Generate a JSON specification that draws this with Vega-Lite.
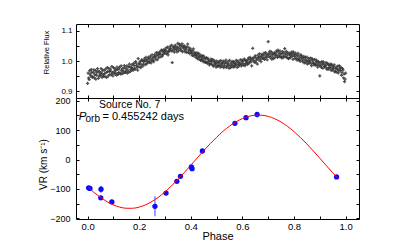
{
"$schema":"https://vega.github.io/schema/vega-lite/v6.json",
"padding":{"left":37,"top":23,"right":5,"bottom":0},
"spacing":0,
"bounds":"flush",
"config":{"font":"Liberation Sans","view":{"stroke":"#000","strokeWidth":1},
"axis":{"domain":false,"grid":false,"tickColor":"#000","tickSize":-3,"tickWidth":1,"labelColor":"#000","titleColor":"#000","labelFont":"Liberation Sans","titleFont":"Liberation Sans","titleFontWeight":"normal","labelPadding":6}},
"datasets":{
"lc":[
{"p":0.000,"f":0.926},{"p":0.004,"f":0.944},{"p":0.008,"f":0.968},{"p":0.012,"f":0.951},{"p":0.016,"f":0.963},
{"p":0.020,"f":0.948},{"p":0.024,"f":0.971},{"p":0.028,"f":0.955},{"p":0.032,"f":0.940},{"p":0.036,"f":0.962},
{"p":0.040,"f":0.967},{"p":0.044,"f":0.950},{"p":0.048,"f":0.958},{"p":0.052,"f":0.975},{"p":0.056,"f":0.946},
{"p":0.060,"f":0.955},{"p":0.064,"f":0.969},{"p":0.068,"f":0.948},{"p":0.072,"f":0.962},{"p":0.076,"f":0.978},
{"p":0.080,"f":0.951},{"p":0.084,"f":0.966},{"p":0.088,"f":0.973},{"p":0.092,"f":0.955},{"p":0.096,"f":0.962},
{"p":0.100,"f":0.978},{"p":0.104,"f":0.958},{"p":0.108,"f":0.969},{"p":0.112,"f":0.953},{"p":0.116,"f":0.972},
{"p":0.120,"f":0.962},{"p":0.124,"f":0.980},{"p":0.128,"f":0.957},{"p":0.132,"f":0.969},{"p":0.136,"f":0.975},
{"p":0.140,"f":0.961},{"p":0.144,"f":0.978},{"p":0.148,"f":0.966},{"p":0.152,"f":0.984},{"p":0.156,"f":0.970},
{"p":0.160,"f":0.963},{"p":0.164,"f":0.981},{"p":0.168,"f":0.972},{"p":0.172,"f":0.988},{"p":0.176,"f":0.969},
{"p":0.180,"f":0.985},{"p":0.184,"f":0.972},{"p":0.188,"f":0.993},{"p":0.192,"f":0.979},{"p":0.196,"f":1.008},
{"p":0.200,"f":0.981},{"p":0.204,"f":0.999},{"p":0.208,"f":0.987},{"p":0.212,"f":1.001},{"p":0.216,"f":0.990},
{"p":0.220,"f":1.007},{"p":0.224,"f":0.988},{"p":0.228,"f":1.003},{"p":0.232,"f":0.996},{"p":0.236,"f":1.013},
{"p":0.240,"f":0.995},{"p":0.244,"f":1.016},{"p":0.248,"f":1.002},{"p":0.252,"f":1.010},{"p":0.256,"f":0.998},
{"p":0.260,"f":1.021},{"p":0.264,"f":1.006},{"p":0.268,"f":1.018},{"p":0.272,"f":1.027},{"p":0.276,"f":1.011},
{"p":0.280,"f":1.030},{"p":0.284,"f":1.014},{"p":0.288,"f":1.034},{"p":0.292,"f":1.022},{"p":0.296,"f":1.038},
{"p":0.300,"f":1.025},{"p":0.304,"f":1.043},{"p":0.308,"f":1.031},{"p":0.312,"f":1.020},{"p":0.316,"f":1.040},
{"p":0.320,"f":1.048},{"p":0.324,"f":1.033},{"p":0.328,"f":0.995},{"p":0.332,"f":1.043},{"p":0.336,"f":1.029},
{"p":0.340,"f":1.052},{"p":0.344,"f":1.038},{"p":0.348,"f":1.046},{"p":0.352,"f":1.033},{"p":0.356,"f":1.055},
{"p":0.360,"f":1.040},{"p":0.364,"f":1.050},{"p":0.368,"f":1.031},{"p":0.372,"f":1.046},{"p":0.376,"f":1.037},
{"p":0.380,"f":1.045},{"p":0.384,"f":1.029},{"p":0.388,"f":1.056},{"p":0.392,"f":1.036},{"p":0.396,"f":1.024},
{"p":0.400,"f":1.039},{"p":0.404,"f":1.025},{"p":0.408,"f":1.033},{"p":0.412,"f":1.017},{"p":0.416,"f":1.028},
{"p":0.420,"f":1.012},{"p":0.424,"f":1.027},{"p":0.428,"f":1.016},{"p":0.432,"f":1.006},{"p":0.436,"f":1.020},
{"p":0.440,"f":1.003},{"p":0.444,"f":1.018},{"p":0.448,"f":0.998},{"p":0.452,"f":1.010},{"p":0.456,"f":0.995},
{"p":0.460,"f":1.011},{"p":0.464,"f":0.992},{"p":0.468,"f":1.004},{"p":0.472,"f":0.987},{"p":0.476,"f":1.000},
{"p":0.480,"f":0.990},{"p":0.484,"f":1.005},{"p":0.488,"f":0.983},{"p":0.492,"f":0.996},{"p":0.496,"f":0.987},
{"p":0.500,"f":1.000},{"p":0.504,"f":0.982},{"p":0.508,"f":0.994},{"p":0.512,"f":0.986},{"p":0.516,"f":1.001},
{"p":0.520,"f":0.981},{"p":0.524,"f":0.995},{"p":0.528,"f":0.978},{"p":0.532,"f":0.991},{"p":0.536,"f":1.003},
{"p":0.540,"f":0.984},{"p":0.544,"f":0.997},{"p":0.548,"f":0.976},{"p":0.552,"f":0.990},{"p":0.556,"f":0.983},
{"p":0.560,"f":0.999},{"p":0.564,"f":0.980},{"p":0.568,"f":0.992},{"p":0.572,"f":0.986},{"p":0.576,"f":1.002},
{"p":0.580,"f":0.979},{"p":0.584,"f":0.995},{"p":0.588,"f":0.988},{"p":0.592,"f":1.004},{"p":0.596,"f":0.984},
{"p":0.600,"f":0.998},{"p":0.604,"f":0.986},{"p":0.608,"f":1.006},{"p":0.612,"f":0.991},{"p":0.616,"f":1.001},
{"p":0.620,"f":0.989},{"p":0.624,"f":1.010},{"p":0.628,"f":0.997},{"p":0.632,"f":1.005},{"p":0.636,"f":0.984},
{"p":0.640,"f":1.042},{"p":0.644,"f":1.001},{"p":0.648,"f":1.013},{"p":0.652,"f":0.995},{"p":0.656,"f":1.008},
{"p":0.660,"f":1.019},{"p":0.664,"f":1.003},{"p":0.668,"f":1.014},{"p":0.672,"f":0.998},{"p":0.676,"f":1.022},
{"p":0.680,"f":1.008},{"p":0.684,"f":1.026},{"p":0.688,"f":1.012},{"p":0.692,"f":1.020},{"p":0.696,"f":1.004},
{"p":0.700,"f":1.064},{"p":0.704,"f":1.025},{"p":0.708,"f":1.011},{"p":0.712,"f":1.030},{"p":0.716,"f":1.016},
{"p":0.720,"f":1.008},{"p":0.724,"f":1.027},{"p":0.728,"f":1.019},{"p":0.732,"f":1.033},{"p":0.736,"f":1.012},
{"p":0.740,"f":1.029},{"p":0.744,"f":1.014},{"p":0.748,"f":1.024},{"p":0.752,"f":1.010},{"p":0.756,"f":1.031},
{"p":0.760,"f":1.017},{"p":0.764,"f":1.041},{"p":0.768,"f":1.023},{"p":0.772,"f":1.012},{"p":0.776,"f":1.028},
{"p":0.780,"f":1.009},{"p":0.784,"f":1.026},{"p":0.788,"f":1.017},{"p":0.792,"f":1.030},{"p":0.796,"f":1.005},
{"p":0.800,"f":1.022},{"p":0.804,"f":1.008},{"p":0.808,"f":1.019},{"p":0.812,"f":1.003},{"p":0.816,"f":1.025},
{"p":0.820,"f":1.013},{"p":0.824,"f":0.999},{"p":0.828,"f":1.018},{"p":0.832,"f":1.004},{"p":0.836,"f":1.010},
{"p":0.840,"f":0.994},{"p":0.844,"f":1.012},{"p":0.848,"f":1.001},{"p":0.852,"f":0.990},{"p":0.856,"f":1.008},
{"p":0.860,"f":0.997},{"p":0.864,"f":1.010},{"p":0.868,"f":0.985},{"p":0.872,"f":1.003},{"p":0.876,"f":0.991},
{"p":0.880,"f":1.005},{"p":0.884,"f":0.986},{"p":0.888,"f":0.998},{"p":0.892,"f":0.980},{"p":0.896,"f":0.994},
{"p":0.900,"f":0.951},{"p":0.904,"f":0.985},{"p":0.908,"f":0.998},{"p":0.912,"f":0.976},{"p":0.916,"f":0.990},
{"p":0.920,"f":0.981},{"p":0.924,"f":0.995},{"p":0.928,"f":0.972},{"p":0.932,"f":0.988},{"p":0.936,"f":0.978},
{"p":0.940,"f":0.990},{"p":0.944,"f":0.969},{"p":0.948,"f":0.983},{"p":0.952,"f":0.975},{"p":0.956,"f":0.987},
{"p":0.960,"f":0.966},{"p":0.964,"f":0.980},{"p":0.968,"f":0.972},{"p":0.972,"f":0.961},{"p":0.976,"f":0.984},
{"p":0.980,"f":0.968},{"p":0.984,"f":0.953},{"p":0.988,"f":0.975},{"p":0.992,"f":0.944},{"p":0.996,"f":0.932},
{"p":1.000,"f":0.960},
{"p":0.002,"f":0.960},{"p":0.006,"f":0.939},{"p":0.010,"f":0.957},{"p":0.014,"f":0.972},{"p":0.018,"f":0.947},
{"p":0.022,"f":0.962},{"p":0.026,"f":0.944},{"p":0.030,"f":0.968},{"p":0.034,"f":0.953},{"p":0.038,"f":0.975},
{"p":0.042,"f":0.943},{"p":0.046,"f":0.965},{"p":0.050,"f":0.952},{"p":0.054,"f":0.961},{"p":0.058,"f":0.970},
{"p":0.062,"f":0.950},{"p":0.066,"f":0.958},{"p":0.070,"f":0.973},{"p":0.074,"f":0.946},{"p":0.078,"f":0.965},
{"p":0.082,"f":0.976},{"p":0.086,"f":0.955},{"p":0.090,"f":0.967},{"p":0.094,"f":0.982},{"p":0.098,"f":0.951},
{"p":0.102,"f":0.964},{"p":0.106,"f":0.975},{"p":0.110,"f":0.960},{"p":0.114,"f":0.980},{"p":0.118,"f":0.956},
{"p":0.122,"f":0.973},{"p":0.126,"f":0.961},{"p":0.130,"f":0.984},{"p":0.134,"f":0.958},{"p":0.138,"f":0.967},
{"p":0.142,"f":0.985},{"p":0.146,"f":0.962},{"p":0.150,"f":0.974},{"p":0.154,"f":0.960},{"p":0.158,"f":0.981},
{"p":0.162,"f":0.990},{"p":0.166,"f":0.966},{"p":0.170,"f":0.979},{"p":0.174,"f":0.974},{"p":0.178,"f":0.992},
{"p":0.182,"f":0.976},{"p":0.186,"f":0.998},{"p":0.190,"f":0.985},{"p":0.194,"f":0.970},{"p":0.198,"f":0.990},
{"p":0.202,"f":0.993},{"p":0.206,"f":0.978},{"p":0.210,"f":1.004},{"p":0.214,"f":0.983},{"p":0.218,"f":0.998},
{"p":0.222,"f":1.000},{"p":0.226,"f":1.012},{"p":0.230,"f":0.991},{"p":0.234,"f":1.006},{"p":0.238,"f":0.999},
{"p":0.242,"f":1.008},{"p":0.246,"f":0.994},{"p":0.250,"f":1.020},{"p":0.254,"f":1.003},{"p":0.258,"f":1.014},
{"p":0.262,"f":1.013},{"p":0.266,"f":1.028},{"p":0.270,"f":1.004},{"p":0.274,"f":1.019},{"p":0.278,"f":1.024},
{"p":0.282,"f":1.023},{"p":0.286,"f":1.036},{"p":0.290,"f":1.017},{"p":0.294,"f":1.029},{"p":0.298,"f":1.032},
{"p":0.302,"f":1.036},{"p":0.306,"f":1.024},{"p":0.310,"f":1.046},{"p":0.314,"f":1.030},{"p":0.318,"f":1.035},
{"p":0.322,"f":1.041},{"p":0.326,"f":1.052},{"p":0.330,"f":1.034},{"p":0.334,"f":1.047},{"p":0.338,"f":1.038},
{"p":0.342,"f":1.045},{"p":0.346,"f":1.030},{"p":0.350,"f":1.058},{"p":0.354,"f":1.041},{"p":0.358,"f":1.049},
{"p":0.362,"f":1.034},{"p":0.366,"f":1.057},{"p":0.370,"f":1.043},{"p":0.374,"f":1.051},{"p":0.378,"f":1.030},
{"p":0.382,"f":1.039},{"p":0.386,"f":1.047},{"p":0.390,"f":1.028},{"p":0.394,"f":1.043},{"p":0.398,"f":1.033},
{"p":0.402,"f":1.030},{"p":0.406,"f":1.018},{"p":0.410,"f":1.040},{"p":0.414,"f":1.024},{"p":0.418,"f":1.021},
{"p":0.422,"f":1.019},{"p":0.426,"f":1.008},{"p":0.430,"f":1.025},{"p":0.434,"f":1.014},{"p":0.438,"f":1.002},
{"p":0.442,"f":1.012},{"p":0.446,"f":1.005},{"p":0.450,"f":1.016},{"p":0.454,"f":0.999},{"p":0.458,"f":1.007},
{"p":0.462,"f":0.996},{"p":0.466,"f":1.009},{"p":0.470,"f":0.998},{"p":0.474,"f":0.991},{"p":0.478,"f":1.006},
{"p":0.482,"f":0.998},{"p":0.486,"f":0.986},{"p":0.490,"f":1.002},{"p":0.494,"f":0.992},{"p":0.498,"f":0.980},
{"p":0.502,"f":0.993},{"p":0.506,"f":0.985},{"p":0.510,"f":0.999},{"p":0.514,"f":0.980},{"p":0.518,"f":0.992},
{"p":0.522,"f":0.987},{"p":0.526,"f":1.000},{"p":0.530,"f":0.984},{"p":0.534,"f":0.996},{"p":0.538,"f":0.979},
{"p":0.542,"f":0.992},{"p":0.546,"f":0.985},{"p":0.550,"f":1.002},{"p":0.554,"f":0.978},{"p":0.558,"f":0.994},
{"p":0.562,"f":0.986},{"p":0.566,"f":0.998},{"p":0.570,"f":0.981},{"p":0.574,"f":0.993},{"p":0.578,"f":0.988},
{"p":0.582,"f":1.000},{"p":0.586,"f":0.983},{"p":0.590,"f":0.994},{"p":0.594,"f":0.990},{"p":0.598,"f":1.003},
{"p":0.602,"f":0.992},{"p":0.606,"f":1.004},{"p":0.610,"f":0.985},{"p":0.614,"f":0.999},{"p":0.618,"f":0.994},
{"p":0.622,"f":1.005},{"p":0.626,"f":0.993},{"p":0.630,"f":1.012},{"p":0.634,"f":0.998},{"p":0.638,"f":1.007},
{"p":0.642,"f":1.010},{"p":0.646,"f":0.996},{"p":0.650,"f":1.017},{"p":0.654,"f":1.003},{"p":0.658,"f":0.990},
{"p":0.662,"f":1.012},{"p":0.666,"f":1.024},{"p":0.670,"f":1.006},{"p":0.674,"f":1.016},{"p":0.678,"f":1.010},
{"p":0.682,"f":1.019},{"p":0.686,"f":1.005},{"p":0.690,"f":1.028},{"p":0.694,"f":1.013},{"p":0.698,"f":1.022},
{"p":0.702,"f":1.015},{"p":0.706,"f":1.032},{"p":0.710,"f":1.020},{"p":0.714,"f":1.006},{"p":0.718,"f":1.025},
{"p":0.722,"f":1.023},{"p":0.726,"f":1.011},{"p":0.730,"f":1.026},{"p":0.734,"f":1.018},{"p":0.738,"f":1.036},
{"p":0.742,"f":1.020},{"p":0.746,"f":1.033},{"p":0.750,"f":1.015},{"p":0.754,"f":1.025},{"p":0.758,"f":1.011},
{"p":0.762,"f":1.027},{"p":0.766,"f":1.014},{"p":0.770,"f":1.032},{"p":0.774,"f":1.020},{"p":0.778,"f":1.008},
{"p":0.782,"f":1.021},{"p":0.786,"f":1.011},{"p":0.790,"f":1.024},{"p":0.794,"f":1.016},{"p":0.798,"f":1.029},
{"p":0.802,"f":1.015},{"p":0.806,"f":1.026},{"p":0.810,"f":1.009},{"p":0.814,"f":1.018},{"p":0.818,"f":1.004},
{"p":0.822,"f":1.006},{"p":0.826,"f":1.020},{"p":0.830,"f":1.011},{"p":0.834,"f":0.998},{"p":0.838,"f":1.015},
{"p":0.842,"f":1.004},{"p":0.846,"f":0.995},{"p":0.850,"f":1.013},{"p":0.854,"f":1.000},{"p":0.858,"f":0.992},
{"p":0.862,"f":1.002},{"p":0.866,"f":0.993},{"p":0.870,"f":1.008},{"p":0.874,"f":0.996},{"p":0.878,"f":0.987},
{"p":0.882,"f":0.992},{"p":0.886,"f":1.003},{"p":0.890,"f":0.988},{"p":0.894,"f":0.999},{"p":0.898,"f":0.985},
{"p":0.902,"f":0.994},{"p":0.906,"f":0.979},{"p":0.910,"f":0.990},{"p":0.914,"f":0.997},{"p":0.918,"f":0.982},
{"p":0.922,"f":0.986},{"p":0.926,"f":0.977},{"p":0.930,"f":0.992},{"p":0.934,"f":0.973},{"p":0.938,"f":0.985},
{"p":0.942,"f":0.977},{"p":0.946,"f":0.989},{"p":0.950,"f":0.970},{"p":0.954,"f":0.981},{"p":0.958,"f":0.964},
{"p":0.962,"f":0.975},{"p":0.966,"f":0.963},{"p":0.970,"f":0.983},{"p":0.974,"f":0.969},{"p":0.978,"f":0.976},
{"p":0.982,"f":0.979},{"p":0.986,"f":0.962},{"p":0.990,"f":0.970},{"p":0.994,"f":0.957},{"p":0.998,"f":0.940}
],
"rv":[
{"p":0.004,"v":-96,"e":3},{"p":0.009,"v":-98,"e":3},{"p":0.051,"v":-130,"e":4},{"p":0.052,"v":-101,"e":12},
{"p":0.094,"v":-144,"e":4},{"p":0.261,"v":-159,"e":34},{"p":0.304,"v":-114,"e":4},{"p":0.346,"v":-74,"e":4},
{"p":0.360,"v":-57,"e":4},{"p":0.402,"v":-25,"e":6},{"p":0.405,"v":-31,"e":8},{"p":0.445,"v":29,"e":4},
{"p":0.571,"v":123,"e":4},{"p":0.614,"v":142,"e":4},{"p":0.657,"v":153,"e":4},{"p":0.965,"v":-59,"e":4}
],
"fit":[
{"p":0.003,"v":-95},{"p":0.025,"v":-112},{"p":0.05,"v":-128},{"p":0.075,"v":-143},{"p":0.1,"v":-154},
{"p":0.125,"v":-161.7},{"p":0.15,"v":-165.5},{"p":0.175,"v":-165.5},{"p":0.2,"v":-161.5},{"p":0.225,"v":-153.7},
{"p":0.25,"v":-142.4},{"p":0.275,"v":-127.7},{"p":0.3,"v":-110},{"p":0.325,"v":-89.8},{"p":0.35,"v":-67.8},
{"p":0.375,"v":-44},{"p":0.4,"v":-19.5},{"p":0.425,"v":5.4},{"p":0.45,"v":30},{"p":0.475,"v":53.7},
{"p":0.5,"v":75.6},{"p":0.525,"v":95.8},{"p":0.55,"v":113.4},{"p":0.575,"v":127.9},{"p":0.6,"v":139.1},
{"p":0.625,"v":146.7},{"p":0.65,"v":150.5},{"p":0.675,"v":150.5},{"p":0.7,"v":146.5},{"p":0.725,"v":138.7},
{"p":0.75,"v":127.4},{"p":0.775,"v":112.7},{"p":0.8,"v":95},{"p":0.825,"v":74.8},{"p":0.85,"v":52.8},
{"p":0.875,"v":29},{"p":0.9,"v":4.5},{"p":0.925,"v":-20.4},{"p":0.95,"v":-45},{"p":0.967,"v":-61}
]
},
"vconcat":[
{
"width":283,"height":74,
"data":{"name":"lc"},
"layer":[
{"mark":{"type":"point","shape":"cross","filled":true,"size":10,"color":"#333","opacity":0.85},
"encoding":{
"x":{"field":"p","type":"quantitative","scale":{"domain":[-0.045,1.052],"nice":false,"zero":false},
"axis":{"orient":"bottom","values":[0,0.1,0.2,0.3,0.4,0.5,0.6,0.7,0.8,0.9,1.0],"labels":false,"title":null}},
"y":{"field":"f","type":"quantitative","scale":{"domain":[0.878,1.122],"nice":false,"zero":false},
"axis":{"orient":"left","values":[0.9,0.95,1.0,1.05,1.1],"format":".1f","labelExpr":"round(datum.value*100)%10==0 ? datum.label : ''","labelFontSize":8,"labelPadding":7,
"title":"Relative Flux","titleFontSize":7.5,"titleFont":"Liberation Sans Narrow, Liberation Sans","titleX":-30,"titleY":28,"titleBaseline":"middle"}}
}},
{"mark":{"type":"point","opacity":0},
"encoding":{
"x":{"field":"p","type":"quantitative","scale":{"domain":[-0.045,1.052],"nice":false,"zero":false},
"axis":{"orient":"top","values":[0,0.1,0.2,0.3,0.4,0.5,0.6,0.7,0.8,0.9,1.0],"labels":false,"title":null}},
"y":{"field":"f","type":"quantitative","scale":{"domain":[0.878,1.122],"nice":false,"zero":false},
"axis":{"orient":"right","values":[0.9,0.95,1.0,1.05,1.1],"labels":false,"title":null}}
}}
],
"resolve":{"axis":{"x":"independent","y":"independent"}}
},
{
"width":283,"height":121,
"layer":[
{"data":{"name":"rv"},
"mark":{"type":"point","opacity":0},
"encoding":{
"x":{"field":"p","type":"quantitative","scale":{"domain":[-0.045,1.052],"nice":false,"zero":false},
"axis":{"orient":"bottom","values":[0,0.1,0.2,0.3,0.4,0.5,0.6,0.7,0.8,0.9,1.0],"format":".1f","labelExpr":"round(datum.value*10)%2==0 ? datum.label : ''","labelFontSize":9.5,"labelPadding":5,
"title":"Phase","titleFontSize":11,"titlePadding":0}},
"y":{"field":"v","type":"quantitative","scale":{"domain":[-202,209],"nice":false,"zero":false},
"axis":{"orient":"left","values":[-200,-150,-100,-50,0,50,100,150,200],"labelExpr":"datum.value%100==0 ? datum.label : ''","labelFontSize":9,"labelPadding":9,
"title":"VR (km s⁻¹)","titleFontSize":10,"titleX":-33,"titleY":66,"titleBaseline":"middle"}}
}},
{"data":{"name":"rv"},
"mark":{"type":"point","opacity":0},
"encoding":{
"x":{"field":"p","type":"quantitative","scale":{"domain":[-0.045,1.052],"nice":false,"zero":false},
"axis":{"orient":"top","values":[0,0.1,0.2,0.3,0.4,0.5,0.6,0.7,0.8,0.9,1.0],"labels":false,"title":null}},
"y":{"field":"v","type":"quantitative","scale":{"domain":[-202,209],"nice":false,"zero":false},
"axis":{"orient":"right","values":[-200,-150,-100,-50,0,50,100,150,200],"labels":false,"title":null}}
}},
{"data":{"name":"rv"},
"mark":{"type":"errorbar","ticks":false,"color":"#8080ff","thickness":1.5},
"encoding":{
"x":{"field":"p","type":"quantitative","axis":null},
"y":{"field":"v","type":"quantitative","axis":null},
"yError":{"field":"e"}
}},
{"data":{"name":"rv"},
"mark":{"type":"circle","size":28,"color":"#0a0aff","opacity":1},
"encoding":{
"x":{"field":"p","type":"quantitative","axis":null},
"y":{"field":"v","type":"quantitative","axis":null}
}},
{"data":{"name":"fit"},
"mark":{"type":"line","color":"#ff0000","strokeWidth":1,"interpolate":"monotone"},
"encoding":{
"x":{"field":"p","type":"quantitative","axis":null},
"y":{"field":"v","type":"quantitative","axis":null}
}},
{"data":{"values":[{}]},
"mark":{"type":"text","text":"Source No. 7","fontSize":10.5,"align":"left","baseline":"alphabetic","color":"#000"},
"encoding":{"x":{"datum":0.044,"type":"quantitative","axis":null},"y":{"datum":175.5,"type":"quantitative","axis":null}}},
{"data":{"values":[{}]},
"mark":{"type":"text","text":"P","fontSize":11.5,"fontStyle":"italic","align":"left","baseline":"alphabetic","color":"#000"},
"encoding":{"x":{"datum":-0.034,"type":"quantitative","axis":null},"y":{"datum":134.7,"type":"quantitative","axis":null}}},
{"data":{"values":[{}]},
"mark":{"type":"text","text":"orb","fontSize":10,"align":"left","baseline":"alphabetic","color":"#000"},
"encoding":{"x":{"datum":-0.008,"type":"quantitative","axis":null},"y":{"datum":127,"type":"quantitative","axis":null}}},
{"data":{"values":[{}]},
"mark":{"type":"text","text":"= 0.455242 days","fontSize":11,"align":"left","baseline":"alphabetic","color":"#000"},
"encoding":{"x":{"datum":0.0575,"type":"quantitative","axis":null},"y":{"datum":134.7,"type":"quantitative","axis":null}}}
],
"resolve":{"axis":{"x":"independent","y":"independent"}}
}
]
}
